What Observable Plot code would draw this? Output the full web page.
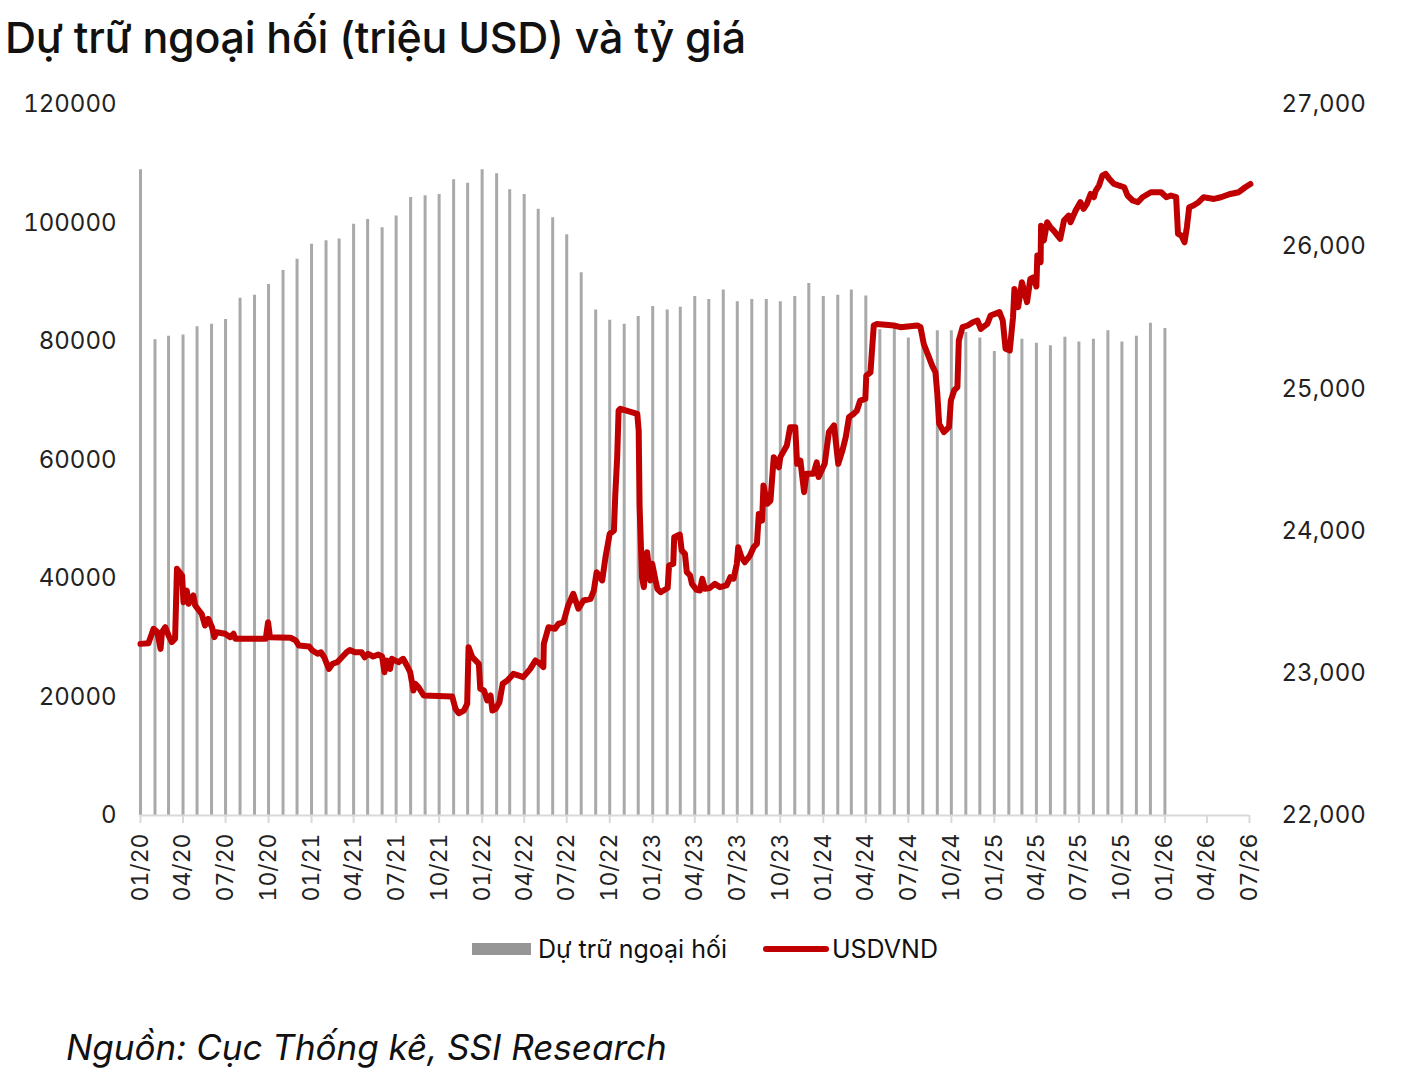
<!DOCTYPE html>
<html>
<head>
<meta charset="utf-8">
<script src="https://cdn.jsdelivr.net/npm/d3@7"></script>
<script src="https://cdn.jsdelivr.net/npm/@observablehq/plot@0.6"></script>
<style>
  html, body { margin: 0; padding: 0; background: #fff; }
  body { width: 1410px; height: 1086px; position: relative; overflow: hidden; font-family: Inter, "Noto Sans", sans-serif; color: #111; }
  #title { position: absolute; left: 5px; top: 12px; font-size: 43px; font-weight: 500; line-height: 1.2; white-space: nowrap; letter-spacing: -0.3px; }
  #chart { position: absolute; left: 0; top: 80px; }
  #legend { position: absolute; top: 934px; left: 472px; font-size: 25px; color: #111; display: flex; align-items: center; white-space: nowrap; }
  #legend .sw1 { width: 59px; height: 12px; background: #969696; margin-right: 7px; }
  #legend .sw2 { width: 66px; height: 6px; border-radius: 3px; background: #c00000; margin-left: 36px; margin-right: 3px; }
  #caption { position: absolute; left: 66px; top: 1026px; font-size: 35px; font-style: italic; white-space: nowrap; color: #111; }
</style>
</head>
<body>
<div id="title">Dự trữ ngoại hối (triệu USD) và tỷ giá</div>
<div id="chart"></div>
<div id="legend"><span class="sw1"></span><span>Dự trữ ngoại hối</span><span class="sw2"></span><span>USDVND</span></div>
<div id="caption">Nguồn: Cục Thống kê, SSI Research</div>
<script>
// Monthly foreign-exchange reserves (million USD), 01/2020 .. 01/2026
const reserveStart = "2020-01-01";
const reserveValues = [
  109000, 80300, 80900, 81100, 82500, 82900, 83700, 87300, 87800, 89600, 92000, 93900,
  96400, 97000, 97300, 99800, 100600, 99200, 101200, 104300, 104600, 104800, 107300, 106700,
  109000, 108300, 105600, 104800, 102300, 100900, 98000, 91600, 85300, 83600, 82900, 84200,
  85900, 85300, 85800, 87600, 87100, 88700, 86700, 87100, 87100, 86700, 87600, 89800,
  87600, 87800, 88700, 87700, 82000, 82500, 80600, 80000, 81800, 81800, 81500, 80600,
  78300, 80000, 80400, 79700, 79300, 80700, 79900, 80400, 81800, 79900, 80900, 83100,
  82200
];

// USDVND exchange rate
const fxDates = [
  "2020-01-01","2020-01-18","2020-01-29","2020-02-06","2020-02-13","2020-02-16","2020-02-23","2020-03-01","2020-03-08","2020-03-15",
  "2020-03-19","2020-03-30","2020-04-02","2020-04-09","2020-04-13","2020-04-23","2020-04-27","2020-05-11","2020-05-18","2020-05-25",
  "2020-06-02","2020-06-07","2020-06-12","2020-06-30","2020-07-11","2020-07-18","2020-07-22","2020-09-25","2020-09-30","2020-10-04",
  "2020-11-17","2020-11-28","2020-12-05","2020-12-27","2021-01-03","2021-01-14","2021-01-21","2021-01-28","2021-02-07","2021-02-15",
  "2021-02-25","2021-03-07","2021-03-17","2021-03-24","2021-04-04","2021-04-18","2021-04-25","2021-05-02","2021-05-13","2021-05-24",
  "2021-06-01","2021-06-06","2021-06-11","2021-06-18","2021-06-22","2021-07-06","2021-07-16","2021-07-24","2021-07-31","2021-08-07",
  "2021-08-11","2021-08-18","2021-08-29","2021-10-29","2021-11-05","2021-11-12","2021-11-23","2021-11-30","2021-12-03","2021-12-11",
  "2021-12-25","2021-12-28","2022-01-05","2022-01-12","2022-01-19","2022-01-23","2022-01-30","2022-02-07","2022-02-14","2022-02-24",
  "2022-03-09","2022-03-19","2022-03-30","2022-04-14","2022-04-25","2022-05-01","2022-05-12","2022-05-13","2022-05-23","2022-06-06",
  "2022-06-13","2022-06-24","2022-07-04","2022-07-15","2022-07-26","2022-08-06","2022-08-21","2022-08-28","2022-09-03","2022-09-15",
  "2022-09-22","2022-10-01","2022-10-10","2022-10-13","2022-10-17","2022-10-20","2022-10-24","2022-11-29","2022-12-02","2022-12-04",
  "2022-12-09","2022-12-13","2022-12-20","2022-12-27","2022-12-31","2023-01-07","2023-01-11","2023-01-18","2023-02-02","2023-02-05",
  "2023-02-14","2023-02-16","2023-02-28","2023-03-04","2023-03-11","2023-03-15","2023-03-22","2023-03-26","2023-04-05","2023-04-12",
  "2023-04-17","2023-04-23","2023-05-03","2023-05-14","2023-05-25","2023-06-08","2023-06-16","2023-06-23","2023-06-30","2023-07-03",
  "2023-07-10","2023-07-17","2023-07-28","2023-08-05","2023-08-12","2023-08-16","2023-08-23","2023-08-26","2023-09-03","2023-09-10",
  "2023-09-17","2023-09-28","2023-10-01","2023-10-15","2023-10-22","2023-11-02","2023-11-06","2023-11-13","2023-11-21","2023-11-26",
  "2023-12-11","2023-12-18","2023-12-22","2024-01-04","2024-01-13","2024-01-24","2024-02-02","2024-02-11","2024-02-18","2024-02-25",
  "2024-03-06","2024-03-13","2024-03-20","2024-03-31","2024-04-02","2024-04-11","2024-04-18","2024-04-25","2024-05-31","2024-06-14",
  "2024-07-20","2024-07-27","2024-08-03","2024-08-14","2024-08-21","2024-08-28","2024-09-01","2024-09-05","2024-09-15","2024-09-26",
  "2024-09-30","2024-10-07","2024-10-14","2024-10-17","2024-10-25","2024-11-05","2024-11-16","2024-11-26","2024-12-03","2024-12-17",
  "2024-12-24","2025-01-12","2025-01-19","2025-01-25","2025-02-03","2025-02-10","2025-02-13","2025-02-21","2025-03-01","2025-03-12",
  "2025-03-19","2025-03-26","2025-04-01","2025-04-03","2025-04-10","2025-04-11","2025-04-17","2025-04-24","2025-05-01","2025-05-08",
  "2025-05-22","2025-05-30","2025-06-09","2025-06-13","2025-06-24","2025-07-04","2025-07-11","2025-07-18","2025-07-26","2025-08-02",
  "2025-08-06","2025-08-13","2025-08-20","2025-08-27","2025-09-04","2025-09-14","2025-09-25","2025-10-06","2025-10-13","2025-10-24",
  "2025-11-04","2025-11-14","2025-12-02","2025-12-24","2026-01-04","2026-01-14","2026-01-25","2026-01-29","2026-02-05","2026-02-12",
  "2026-02-17","2026-02-22","2026-03-03","2026-03-14","2026-03-25","2026-04-16","2026-05-01","2026-05-21","2026-06-08","2026-06-22",
  "2026-07-03"
];
const fxValues = [
  23207,23212,23313,23290,23172,23289,23324,23266,23219,23243,
  23735,23688,23500,23582,23489,23547,23477,23417,23336,23383,
  23324,23254,23289,23278,23254,23278,23243,23243,23359,23254,
  23250,23231,23195,23188,23160,23137,23148,23113,23031,23067,
  23078,23113,23148,23164,23148,23148,23113,23137,23118,23132,
  23118,23008,23090,23031,23102,23078,23102,23055,23008,22879,
  22926,22902,22844,22837,22750,22719,22738,22785,23184,23113,
  23067,22891,22879,22809,22844,22738,22750,22797,22926,22949,
  22996,22985,22973,23031,23090,23078,23043,23207,23324,23313,
  23347,23359,23477,23559,23454,23512,23524,23582,23711,23653,
  23817,23981,24004,24262,24520,24848,24860,24825,24707,24168,
  23676,23606,23852,23653,23770,23653,23594,23570,23600,23758,
  23770,23957,23976,23864,23840,23711,23688,23629,23587,23582,
  23665,23594,23600,23629,23606,23618,23676,23665,23770,23887,
  23817,23781,23828,23887,23910,24120,24074,24321,24192,24215,
  24520,24448,24520,24602,24731,24731,24473,24496,24274,24403,
  24403,24483,24380,24473,24696,24743,24473,24567,24660,24801,
  24825,24848,24918,24930,25094,25117,25446,25457,25446,25434,
  25446,25434,25316,25223,25164,25117,24965,24754,24696,24731,
  24918,24989,25012,25340,25434,25446,25469,25481,25422,25457,
  25516,25540,25481,25282,25270,25504,25703,25575,25750,25610,
  25774,25785,25720,25938,25891,26148,26044,26172,26137,26113,
  26055,26184,26219,26172,26254,26313,26266,26301,26371,26348,
  26395,26430,26500,26512,26477,26441,26430,26418,26360,26325,
  26313,26348,26383,26383,26348,26360,26348,26090,26079,26031,
  26137,26278,26290,26313,26348,26336,26348,26371,26383,26418,
  26441
];

// Axis ticks
const leftTicks = [0, 20000, 40000, 60000, 80000, 100000, 120000];
const rightTicks = [22000, 23000, 24000, 25000, 26000, 27000];
const xDomain = ["2020-01-01", "2026-07-01"];

// ---- build tables ----
const parse = s => new Date(s + "T00:00:00Z");
const reserveDates = d3.utcMonth.range(parse(reserveStart), d3.utcMonth.offset(parse(reserveStart), reserveValues.length));
const reserves = reserveValues.map((v, i) => ({date: reserveDates[i], v}));
const fx = fxDates.map((s, i) => ({date: parse(s), v: fxValues[i]}));

// right axis is mapped onto the left scale
const rMin = rightTicks[0], rMax = rightTicks[rightTicks.length - 1];
const lMax = leftTicks[leftTicks.length - 1];
const toLeft = v => (v - rMin) / (rMax - rMin) * lMax;
const fromLeft = y => y / lMax * (rMax - rMin) + rMin;

const xTicks = d3.utcMonth.every(3).range(parse(xDomain[0]), d3.utcDay.offset(parse(xDomain[1]), 1));

const chart = Plot.plot({
  width: 1410,
  height: 840,
  marginTop: 24,
  marginBottom: 105,
  marginLeft: 140,
  marginRight: 161,
  style: {fontFamily: "Inter, 'Noto Sans', sans-serif", fontSize: "24px", color: "#222", background: "transparent", overflow: "visible"},
  x: {type: "utc", domain: xDomain.map(parse)},
  y: {domain: [0, lMax]},
  marks: [
    Plot.ruleX(reserves, {x: "date", y1: 0, y2: "v", stroke: "#a9a9a9", strokeWidth: 3}),
    Plot.ruleY([0], {stroke: "#d9d9d9", strokeWidth: 2}),
    Plot.line(fx, {x: "date", y: d => toLeft(d.v), stroke: "#c00000", strokeWidth: 6, strokeLinejoin: "round", strokeLinecap: "round"}),
    Plot.axisY(leftTicks, {anchor: "left", tickSize: 0, tickPadding: 24, tickFormat: d3.format("d"), fill: "#222", label: null}),
    Plot.axisY(rightTicks.map(toLeft), {anchor: "right", tickSize: 0, tickPadding: 32, tickFormat: d => d3.format(",")(Math.round(fromLeft(d))), fill: "#222", label: null}),
    Plot.axisX(xTicks, {tickFormat: d3.utcFormat("%m/%y"), tickRotate: -90, tickSize: 8, tickPadding: 10, stroke: "#d9d9d9", strokeWidth: 2, fill: "#222", fontSize: 23, label: null})
  ]
});
document.getElementById("chart").appendChild(chart);
</script>
</body>
</html>
